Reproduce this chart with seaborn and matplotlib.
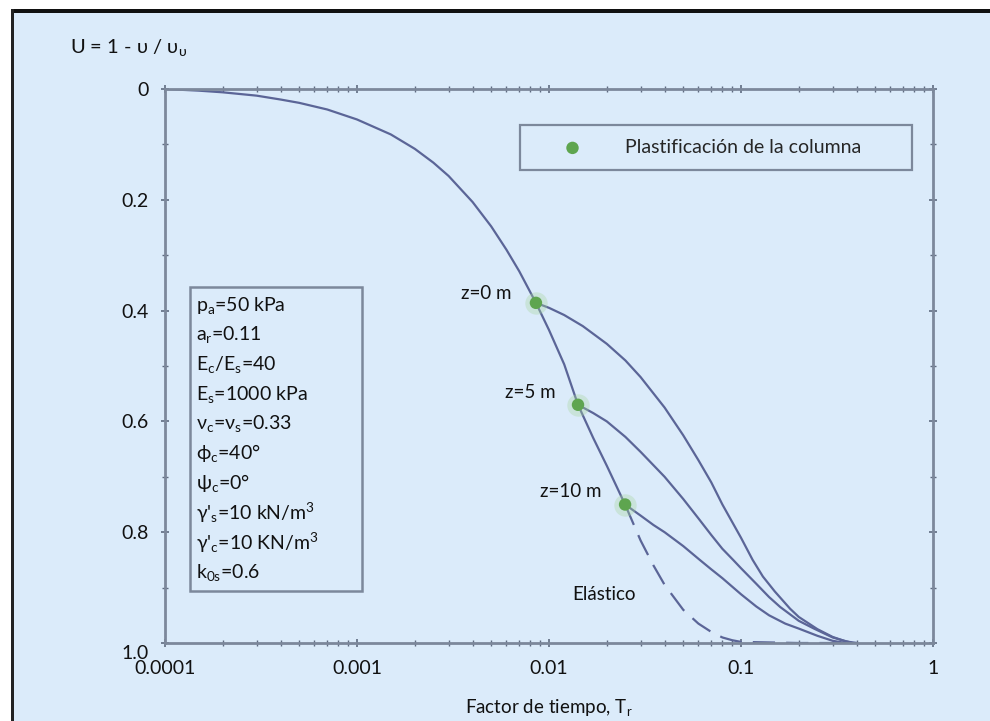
import numpy as np
import pandas as pd
import matplotlib
matplotlib.use("Agg")
import matplotlib.pyplot as plt
import matplotlib.transforms as mtransforms
from matplotlib.patches import Rectangle
from matplotlib.ticker import LogLocator, NullFormatter, MultipleLocator
import seaborn as sns

# ---------------- data ----------------
elastic_T = [1e-4, 1.5e-4, 2e-4, 3e-4, 4e-4, 5e-4, 7e-4, 1e-3, 1.5e-3, 2e-3, 2.5e-3, 3e-3,
             4e-3, 5e-3, 6e-3, 7e-3, 0.00855, 0.01, 0.012, 0.01416, 0.017, 0.02, 0.0249,
             0.03, 0.035, 0.04, 0.05, 0.06, 0.07, 0.08, 0.09, 0.1, 0.2, 0.4]
elastic_U = [0.0, 0.003, 0.006, 0.012, 0.019, 0.025, 0.037, 0.055, 0.082, 0.108, 0.133, 0.157,
             0.204, 0.248, 0.29, 0.329, 0.386, 0.435, 0.497, 0.57, 0.63, 0.68, 0.75,
             0.815, 0.86, 0.895, 0.94, 0.965, 0.98, 0.99, 0.995, 0.998, 1.0, 1.0]

z0_T = [0.00855, 0.01, 0.012, 0.015, 0.02, 0.025, 0.03, 0.04, 0.05, 0.06, 0.07, 0.08,
        0.1, 0.115, 0.13, 0.15, 0.18, 0.2, 0.25, 0.3, 0.35, 0.4]
z0_U = [0.386, 0.395, 0.408, 0.428, 0.46, 0.49, 0.52, 0.575, 0.625, 0.67, 0.71, 0.75,
        0.81, 0.85, 0.88, 0.907, 0.938, 0.953, 0.975, 0.989, 0.997, 1.0]
z5_T = [0.01416, 0.017, 0.02, 0.025, 0.03, 0.04, 0.05, 0.06, 0.07, 0.08, 0.091, 0.1,
        0.12, 0.14, 0.16, 0.2, 0.24, 0.3, 0.38]
z5_U = [0.57, 0.585, 0.60, 0.628, 0.655, 0.70, 0.74, 0.775, 0.805, 0.83, 0.85, 0.865,
        0.893, 0.917, 0.935, 0.96, 0.974, 0.99, 1.0]
z10_T = [0.0249, 0.03, 0.035, 0.04, 0.05, 0.061, 0.07, 0.08, 0.1, 0.12, 0.14, 0.17,
         0.2, 0.25, 0.3, 0.35]
z10_U = [0.75, 0.77, 0.787, 0.80, 0.825, 0.85, 0.867, 0.883, 0.912, 0.934, 0.95, 0.965,
         0.974, 0.987, 0.996, 1.0]

plast_T = [0.00855, 0.01416, 0.0249]
plast_U = [0.386, 0.57, 0.75]
plast_labels = ["z=0 m", "z=5 m", "z=10 m"]

x_ticks = [1e-4, 1e-3, 1e-2, 1e-1, 1]
x_ticklabels = ["0.0001", "0.001", "0.01", "0.1", "1"]
y_ticks = [0, 0.2, 0.4, 0.6, 0.8, 1.0]
y_ticklabels = ["0", "0.2", "0.4", "0.6", "0.8", "1.0"]

params = [r"p$_{\rm a}$=50 kPa", r"a$_{\rm r}$=0.11", r"E$_{\rm c}$/E$_{\rm s}$=40",
          r"E$_{\rm s}$=1000 kPa", r"ν$_{\rm c}$=ν$_{\rm s}$=0.33", r"ϕ$_{\rm c}$=40°",
          r"ψ$_{\rm c}$=0°", r"γ'$_{\rm s}$=10 kN/m$^{\rm 3}$", r"γ'$_{\rm c}$=10 KN/m$^{\rm 3}$",
          r"k$_{\rm 0s}$=0.6"]

# ---------------- style ----------------
BG = "#dbebfa"
LINE = "#5b6597"
FRAME = "#7c889b"
GREEN = "#5ea54f"

sns.set_theme(style="ticks")
plt.rcParams["font.family"] = ["Lato", "DejaVu Sans"]
plt.rcParams["mathtext.fontset"] = "custom"
plt.rcParams["mathtext.rm"] = "Lato"
plt.rcParams["mathtext.it"] = "Lato:italic"
plt.rcParams["mathtext.bf"] = "Lato:bold"
plt.rcParams["mathtext.fallback"] = "stixsans"

fig = plt.figure(figsize=(9.9, 7.21), dpi=100, facecolor="white")
fig.patches.append(Rectangle((13 / 990, 0), 1, 1 - 13 / 721, transform=fig.transFigure,
                             facecolor=BG, edgecolor="none", zorder=-10))
fig.patches.append(Rectangle((11 / 990, 1 - 13 / 721), 1, 4 / 721, transform=fig.transFigure,
                             facecolor="#111111", edgecolor="none", zorder=-9))
fig.patches.append(Rectangle((11 / 990, 0), 2.5 / 990, 1 - 9 / 721, transform=fig.transFigure,
                             facecolor="#222222", edgecolor="none", zorder=-9))

ax = fig.add_axes([165 / 990, 1 - 643 / 721, 768 / 990, 554 / 721])
ax.set_facecolor(BG)

el = pd.DataFrame({"T": elastic_T, "U": elastic_U})
split_T = plast_T[-1]
el_solid = el[el["T"] <= split_T]
el_dash = el[el["T"] >= split_T]

sns.lineplot(data=el_solid, x="T", y="U", ax=ax, color=LINE, lw=1.6, sort=False,
             estimator=None, legend=False)
sns.lineplot(data=el_dash, x="T", y="U", ax=ax, color=LINE, lw=1.6, sort=False,
             estimator=None, legend=False)
ax.lines[-1].set_dashes([10, 5])

for T, U in [(z0_T, z0_U), (z5_T, z5_U), (z10_T, z10_U)]:
    sns.lineplot(x=T, y=U, ax=ax, color=LINE, lw=1.6, sort=False, estimator=None, legend=False)

# glow + dots
ax.scatter(plast_T, plast_U, s=260, color="#a8d6a0", alpha=0.35, linewidths=0, zorder=4)
sns.scatterplot(x=plast_T, y=plast_U, ax=ax, s=80, color=GREEN, edgecolor="none",
                zorder=5, legend=False)

ax.set_xscale("log")
ax.set_xlim(1e-4, 1)
ax.set_ylim(1.0, 0.0)
ax.set_xticks(x_ticks)
ax.set_xticklabels(x_ticklabels)
ax.xaxis.set_minor_locator(LogLocator(base=10, subs=np.arange(2, 10)))
ax.xaxis.set_minor_formatter(NullFormatter())
ax.set_yticks(y_ticks)
ax.set_yticklabels(y_ticklabels)
ax.yaxis.set_minor_locator(MultipleLocator(0.1))
ax.set_xlabel("")
ax.set_ylabel("")

for sp in ax.spines.values():
    sp.set_color(FRAME)
    sp.set_linewidth(2)
ax.tick_params(which="both", direction="inout", top=True, right=True, color="#5f6b80",
               labelsize=14, labelcolor="#111111")
ax.tick_params(which="major", length=6, width=1.2, pad=9)
ax.tick_params(which="minor", length=4, width=1.0)
for lab in ax.get_yticklabels():
    lab.set_horizontalalignment("right")
ylabs = ax.get_yticklabels()
ylabs[-1].set_transform(ylabs[-1].get_transform() +
                        mtransforms.ScaledTranslation(0, -9 / 100, fig.dpi_scale_trans))

# labels of plastification points
lab_pos = [(0.0064, 0.37), (0.01087, 0.547), (0.0187, 0.727)]
for (tx, ty), s in zip(lab_pos, plast_labels):
    ax.text(tx, ty, s, ha="right", va="center", fontsize=13.5, color="#111111")
ax.text(0.0132, 0.913, "Elástico", ha="left", va="center", fontsize=13.5, color="#111111")

# legend
leg_handle = ax.scatter([], [], s=80, color=GREEN, edgecolor="none")
leg = ax.legend([leg_handle], ["Plastificación de la columna"],
                bbox_to_anchor=((520 - 165) / 768, (643 - 173) / 554, 392 / 768, 51 / 554),
                loc="center", mode="expand", borderaxespad=0, fontsize=14,
                handlelength=4.0, handletextpad=0.7, borderpad=0.7,
                frameon=True, fancybox=False, scatterpoints=1)
frm = leg.get_frame()
frm.set_facecolor(BG)
frm.set_edgecolor(FRAME)
frm.set_linewidth(1.6)
frm.set_alpha(1)

# parameter box
bx0, by0 = (190 - 165) / 768, (643 - 591) / 554
bw, bh = (362 - 190) / 768, (591 - 287) / 554
ax.add_patch(Rectangle((bx0, by0), bw, bh, transform=ax.transAxes, facecolor=BG,
                       edgecolor=FRAME, lw=1.8, zorder=6))
for i, s in enumerate(params):
    ypix = 305 + i * 29.7
    ax.text((196 - 165) / 768, (643 - ypix) / 554, s, transform=ax.transAxes,
            ha="left", va="center", fontsize=14, color="#111111", zorder=7)

# title and x label
fig.text(70 / 990, 1 - 47 / 721, r"U = 1 - υ / υ$_{\rm υ}$", ha="left", va="center",
         fontsize=14.5, color="#111111")
fig.text(549 / 990, 1 - 708 / 721, r"Factor de tiempo, T$_{\rm r}$", ha="center", va="center",
         fontsize=13.5, color="#111111")

fig.savefig("out.png", dpi=100, facecolor="white")
